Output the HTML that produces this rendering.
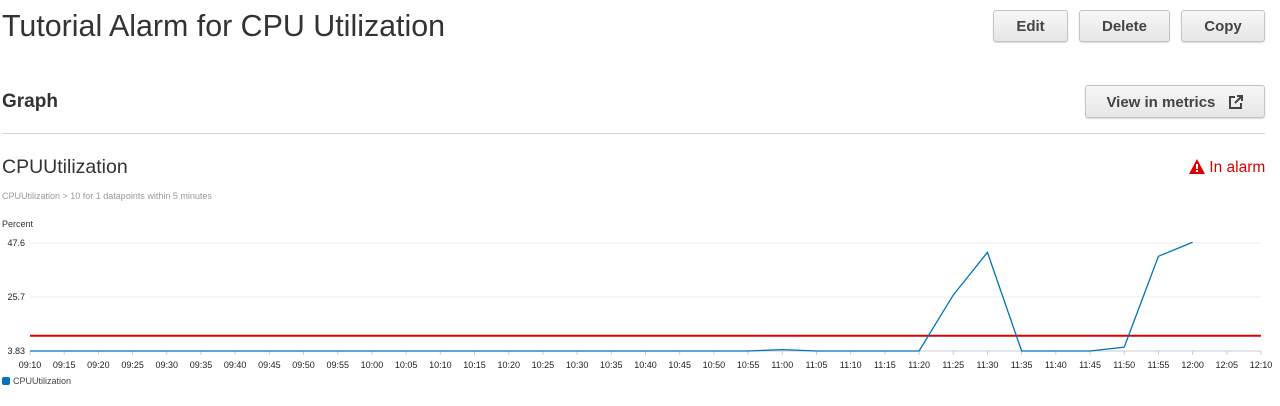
<!DOCTYPE html>
<html><head><meta charset="utf-8"><style>
body{margin:0;width:1280px;height:406px;background:#fff;font-family:"Liberation Sans",sans-serif;position:relative;overflow:hidden;color:#333}
.abs{position:absolute}
.btn{position:absolute;box-sizing:border-box;border:1px solid #c4c4c4;border-radius:3px;background:linear-gradient(#f7f7f7,#e6e6e6);font-weight:bold;font-size:15px;color:#444;text-align:center;box-shadow:0 1px 1px rgba(0,0,0,.15)}
</style></head><body>
<div class="abs" style="left:2px;top:9px;font-size:30.4px;color:#333">Tutorial Alarm for CPU Utilization</div>
<div class="btn" style="left:993px;top:10px;width:75px;height:32px;line-height:32px">Edit</div>
<div class="btn" style="left:1079px;top:10px;width:91px;height:32px;line-height:32px">Delete</div>
<div class="btn" style="left:1181px;top:10px;width:84px;height:32px;line-height:32px">Copy</div>
<div class="abs" style="left:2px;top:91px;font-size:19px;font-weight:bold;color:#333">Graph</div>
<div class="btn" style="left:1085px;top:85px;width:180px;height:33px;line-height:33px">View in metrics <svg width="16" height="16" viewBox="0 0 16 16" style="vertical-align:-3px;margin-left:8px"><path d="M7 3H2V14H13V9" fill="none" stroke="#444" stroke-width="2"/><path d="M7 9L14 2M9 2H14V7" fill="none" stroke="#444" stroke-width="2"/></svg></div>
<div class="abs" style="left:2px;top:133px;width:1263px;height:1px;background:#d5d5d5"></div>
<div class="abs" style="left:2px;top:156px;font-size:19.5px;color:#333">CPUUtilization</div>
<div class="abs" style="left:1189px;top:159px;font-size:15.5px;color:#d00">
<svg width="16" height="15" style="vertical-align:-2px" viewBox="0 0 16 15"><path d="M8 0L16 15H0Z" fill="#d00"/><rect x="7" y="5" width="2" height="5" fill="#fff"/><rect x="7" y="11" width="2" height="2" fill="#fff"/></svg> In alarm</div>
<div class="abs" style="left:2px;top:191px;font-size:9px;color:#999">CPUUtilization &gt; 10 for 1 datapoints within 5 minutes</div>
<div class="abs" style="left:2px;top:219px;font-size:9px;color:#333">Percent</div>
<svg class="abs" style="left:0;top:0" width="1280" height="406" id="chart"></svg>
<div class="abs" style="left:2px;top:376px;font-size:9px;color:#444"><span style="display:inline-block;width:8px;height:8px;border-radius:2px;background:#0073bb;vertical-align:-1px;margin-right:3px"></span>CPUUtilization</div>
<script>
const xLabels=["09:10","09:15","09:20","09:25","09:30","09:35","09:40","09:45","09:50","09:55","10:00","10:05","10:10","10:15","10:20","10:25","10:30","10:35","10:40","10:45","10:50","10:55","11:00","11:05","11:10","11:15","11:20","11:25","11:30","11:35","11:40","11:45","11:50","11:55","12:00","12:05","12:10"];
const yTicks=[3.83,25.7,47.6];
const cpuValues=[3.83,3.83,3.83,3.83,3.83,3.83,3.83,3.83,3.83,3.83,3.83,3.83,3.83,3.83,3.83,3.83,3.83,3.83,3.83,3.83,3.83,3.83,4.4,3.83,3.83,3.83,3.83,26.5,43.8,3.83,3.83,3.83,5.4,42.2,47.9];
const threshold=[10];
const NS="http://www.w3.org/2000/svg";
const svg=document.getElementById('chart');
const x0=30,x1=1261,yTop=243,yBot=351,vMin=3.83,vMax=47.6;
const xs=i=>x0+(x1-x0)*i/(xLabels.length-1);
const ys=v=>yBot-(v-vMin)/(vMax-vMin)*(yBot-yTop);
function mk(t,a){const e=document.createElementNS(NS,t);for(const k in a)e.setAttribute(k,a[k]);svg.appendChild(e);return e;}
yTicks.forEach(v=>{
 const g=mk('line',{x1:x0,x2:x1,y1:ys(v),y2:ys(v),stroke:v===vMin?'#ccc':'#eee','stroke-width':1});
 
 
 const t=mk('text',{x:25,y:ys(v)+3,'text-anchor':'end','font-size':9,fill:'#222','font-family':'Liberation Sans, sans-serif'});
 t.textContent=v;
 
 
});
xLabels.forEach((l,i)=>{
 const tk=mk('line',{x1:xs(i),x2:xs(i),y1:yBot,y2:yBot+4,stroke:'#ccc'});
 
 
 const t=mk('text',{x:xs(i),y:368,'text-anchor':'middle','font-size':9,fill:'#222','font-family':'Liberation Sans, sans-serif'});
 t.textContent=l;
 
 
});
const th=mk('line',{x1:x0,x2:x1,y1:ys(threshold[0]),y2:ys(threshold[0]),stroke:'#d00','stroke-width':2});


const p=mk('polyline',{points:cpuValues.map((v,i)=>xs(i)+','+ys(v)).join(' '),fill:'none',stroke:'#0073bb','stroke-width':1.3});


</script>
</body></html>
